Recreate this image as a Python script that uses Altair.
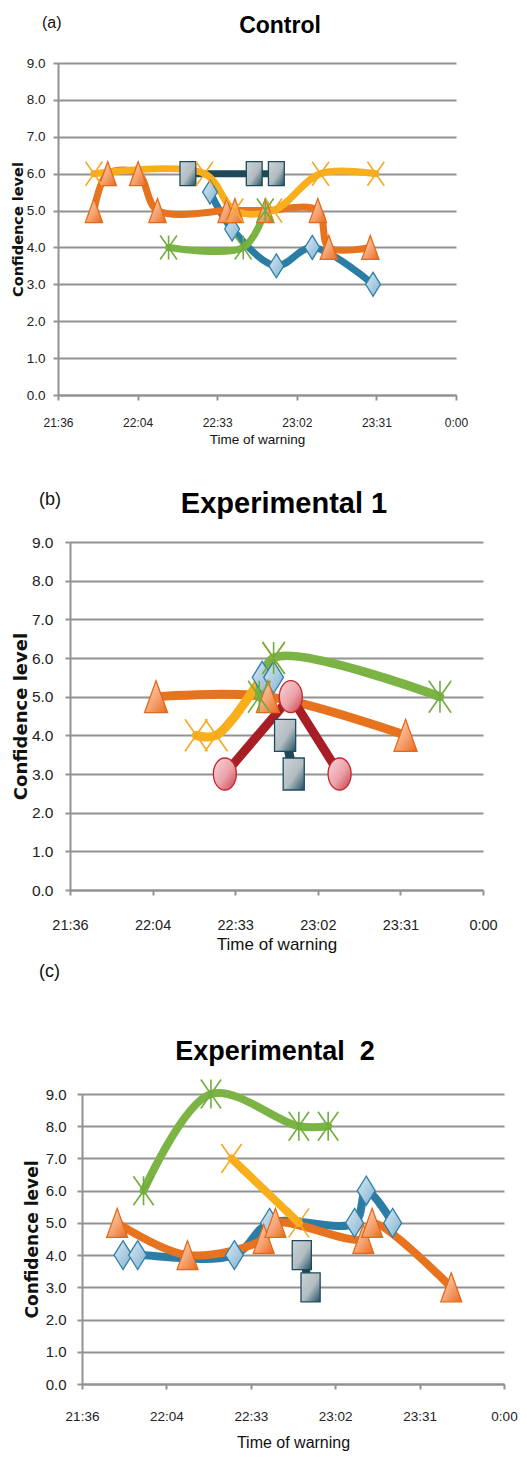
import json
import altair as alt
import pandas as pd

# ---------------- data ----------------
X_TICK_LABELS = ["21:36", "22:04", "22:33", "23:02", "23:31", "0:00"]
AXIS_START = 1296.0   # 21:36 in minutes
AXIS_STEP = 28.8      # Excel major unit 0.02 day
Y_TICKS = [0, 1, 2, 3, 4, 5, 6, 7, 8, 9]

# (a) Control
A_NAVY_T = ["22:23", "22:47", "22:55"]
A_NAVY_V = [6, 6, 6]
A_BLUE_T = ["22:31", "22:39", "22:55", "23:08", "23:30"]
A_BLUE_V = [5.5, 4.5, 3.5, 4.0, 3.0]
A_ORANGE_T = ["21:49", "21:54", "22:05", "22:12", "22:37", "22:40", "22:51", "23:10", "23:14", "23:29"]
A_ORANGE_V = [5, 6, 6, 5, 5, 5, 5, 5, 4, 4]
A_YELLOW_T = ["21:49", "22:29", "22:40", "22:54", "23:11", "23:31"]
A_YELLOW_V = [6, 6, 5, 5, 6, 6]
A_GREEN_T = ["22:16", "22:43", "22:51"]
A_GREEN_V = [4, 4, 5]

# (b) Experimental 1
B_NAVY_T = ["22:51", "22:54"]
B_NAVY_V = [4, 3]
B_BLUE_T = ["22:43", "22:47"]
B_BLUE_V = [5.5, 5.5]
B_ORANGE_T = ["22:06", "22:45", "23:33"]
B_ORANGE_V = [5, 5, 4]
B_RED_T = ["22:30", "22:53", "23:10"]
B_RED_V = [3, 5, 3]
B_YELLOW_T = ["22:20", "22:27", "22:47"]
B_YELLOW_V = [4, 4, 6]
B_GREEN_T = ["22:42", "22:47", "23:45"]
B_GREEN_V = [5, 6, 5]

# (c) Experimental 2
C_NAVY_T = ["22:51", "22:54"]
C_NAVY_V = [4, 3]
C_BLUE_T = ["21:50", "21:55", "22:28", "22:40", "23:09", "23:13", "23:22"]
C_BLUE_V = [4, 4, 4, 5, 5, 6, 5]
C_ORANGE_T = ["21:48", "22:12", "22:38", "22:42", "23:12", "23:15", "23:42"]
C_ORANGE_V = [5, 4, 4.5, 5, 4.5, 5, 3]
C_YELLOW_T = ["22:27", "22:50"]
C_YELLOW_V = [7, 5]
C_GREEN_T = ["21:57", "22:20", "22:50", "23:00"]
C_GREEN_V = [6, 9, 8, 8]

# ---------------- styling ----------------
SANS = "'Liberation Sans', Arial, sans-serif"
BOLDSANS = "'DejaVu Sans', Verdana, sans-serif"
GRID = "#929292"

TRI = "M0,-1L0.72,1L-0.72,1Z"
DIAMOND = "M0,-1L0.62,0L0,1L-0.62,0Z"
SQUARE = "M-0.66,-1L0.66,-1L0.66,1L-0.66,1Z"
ELLIPSE = "M-0.72,0A0.72,1 0 1,0 0.72,0A0.72,1 0 1,0 -0.72,0Z"
XMARK = "M-0.7,-1L0.7,1M-0.7,1L0.7,-1"
STAR = "M-0.7,-1L0.7,1M-0.7,1L0.7,-1M0,-1L0,1"


def grad(c0, c1, c2):
    return alt.LinearGradient(
        gradient="linear",
        stops=[alt.GradientStop(color=c0, offset=0),
               alt.GradientStop(color=c1, offset=0.55),
               alt.GradientStop(color=c2, offset=1)],
        x1=0, y1=0, x2=1, y2=1)


STYLE = {
    "navy": dict(line="#1e4858", shape=SQUARE, fill=grad("#cbd3d7", "#b2bcc1", "#22505f"),
                 stroke="#1d4b5c", filled=True, interp="linear"),
    "blue": dict(line="#2b7da6", shape=DIAMOND, fill=grad("#dbe9f2", "#a9cbe0", "#7eafcf"),
                 stroke="#2f7fa7", filled=True, interp="catmull-rom"),
    "orange": dict(line="#e8731f", shape=TRI, fill=grad("#fcd9c3", "#f5a270", "#e8681c"),
                   stroke="#e2691b", filled=True, interp="catmull-rom"),
    "red": dict(line="#a81e26", shape=ELLIPSE, fill=grad("#f8d6da", "#eba2a8", "#c93a44"),
                stroke="#c3262e", filled=True, interp="linear"),
    "yellow": dict(line="#f9ae1b", shape=XMARK, stroke="#f7a823", filled=False,
                   interp="catmull-rom"),
    "green": dict(line="#7bb445", shape=STAR, stroke="#70ad3e", filled=False,
                  interp="catmull-rom"),
}


def minutes(t):
    h, m = (int(p) for p in t.split(":"))
    if h < 12:
        h += 24
    return h * 60 + m


X_VALUES = [AXIS_START + AXIS_STEP * i for i in range(len(X_TICK_LABELS))]
LABEL_EXPR = "%s[round((datum.value - %s) / %s)]" % (json.dumps(X_TICK_LABELS), AXIS_START, AXIS_STEP)


def build_panel(series, cfg):
    W, H = cfg["w"], cfg["h"]
    xenc = alt.X("t:Q",
                 scale=alt.Scale(domain=[X_VALUES[0], X_VALUES[-1]], nice=False, zero=False),
                 axis=alt.Axis(values=X_VALUES, labelExpr=LABEL_EXPR, grid=False,
                               title="Time of warning", titleFont=SANS,
                               titleFontSize=cfg["xt_fs"], titleFontWeight="normal",
                               titleColor="#111", titlePadding=cfg["xt_pad"],
                               labelFont=SANS, labelFontSize=cfg["xl_fs"], labelColor="#222",
                               labelPadding=cfg["xl_pad"], tickSize=5, tickColor=GRID,
                               tickWidth=2, domainColor=GRID, domainWidth=2,
                               labelFlush=False, labelOverlap=False))
    yenc = alt.Y("v:Q",
                 scale=alt.Scale(domain=[0, 9], nice=False, zero=False),
                 axis=alt.Axis(values=Y_TICKS, format=".1f", grid=True, gridColor=GRID,
                               gridWidth=2, domainColor=GRID, domainWidth=2,
                               tickColor=GRID, tickWidth=2, tickSize=5,
                               labelFont=SANS, labelFontSize=cfg["yl_fs"], labelColor="#222",
                               labelPadding=cfg["yl_pad"],
                               title="Confidence level", titleFont=BOLDSANS,
                               titleFontSize=cfg["yt_fs"], titleFontWeight="bold",
                               titleColor="#111", titleX=cfg["yt_x"], titleY=H / 2,
                               titleAngle=270, titleAlign="center", titleBaseline="middle"))
    layers = []
    frames = []
    for name, times, vals in series:
        df = pd.DataFrame({"t": [minutes(s) for s in times], "v": vals})
        frames.append((name, df))
    for name, df in frames:
        st = STYLE[name]
        layers.append(alt.Chart(df).mark_line(
            color=st["line"], strokeWidth=cfg["lw"], interpolate=st["interp"],
            strokeCap="round", strokeJoin="round").encode(x=xenc, y=yenc))
    for name, df in frames:
        st = STYLE[name]
        if st["filled"]:
            mk = alt.Chart(df).mark_point(shape=st["shape"], size=cfg["ms"], filled=True,
                                          fill=st["fill"], stroke=st["stroke"],
                                          strokeWidth=1.3, opacity=1)
        else:
            mk = alt.Chart(df).mark_point(shape=st["shape"], size=cfg["ms"], filled=False,
                                          stroke=st["stroke"], strokeWidth=1.6, opacity=1)
        layers.append(mk.encode(x=xenc, y=yenc))

    txt = pd.DataFrame({"tag": [cfg["tag"]], "title": [cfg["title"]]})
    layers.append(alt.Chart(txt).mark_text(
        align="left", baseline="alphabetic", font=SANS,
        fontSize=cfg["tag_fs"], color="#111").encode(
        text="tag:N", x=alt.value(cfg["tag_x"]), y=alt.value(cfg["tag_y"])))
    layers.append(alt.Chart(txt).mark_text(
        align="center", baseline="alphabetic", font=SANS, fontWeight="bold",
        fontSize=cfg["title_fs"], color="#000").encode(
        text="title:N", x=alt.value(cfg["title_x"]), y=alt.value(cfg["title_y"])))
    # invisible frame that fixes the panel's outer extent
    layers.append(alt.Chart(txt).mark_rule(opacity=0, strokeWidth=1).encode(
        x=alt.value(cfg["sp_x"]), y=alt.value(cfg["sp_top"]), y2=alt.value(H + cfg["sp_bot"])))
    panel = alt.layer(*layers).properties(width=W, height=H)
    # a 1px invisible spacer column lets each panel keep its own left offset
    spacer = alt.Chart(txt).mark_rule(opacity=0, strokeWidth=1).encode(
        x=alt.value(0), y=alt.value(0), y2=alt.value(1)).properties(width=1, height=1)
    return alt.hconcat(spacer, panel, spacing=0)


row_a = build_panel(
    [("navy", A_NAVY_T, A_NAVY_V), ("blue", A_BLUE_T, A_BLUE_V),
     ("orange", A_ORANGE_T, A_ORANGE_V), ("yellow", A_YELLOW_T, A_YELLOW_V),
     ("green", A_GREEN_T, A_GREEN_V)],
    dict(w=398, h=332, lw=7, ms=576, xt_fs=13.5, xt_pad=4, xl_fs=12, xl_pad=17,
         yl_fs=13.5, yl_pad=8, yt_fs=14.5, yt_x=-40,
         tag="(a)", tag_fs=16, tag_x=-16, tag_y=-35,
         title="Control", title_fs=23, title_x=222, title_y=-30,
         sp_x=-49, sp_top=-55, sp_bot=62))

row_b = build_panel(
    [("navy", B_NAVY_T, B_NAVY_V), ("blue", B_BLUE_T, B_BLUE_V),
     ("orange", B_ORANGE_T, B_ORANGE_V), ("red", B_RED_T, B_RED_V),
     ("yellow", B_YELLOW_T, B_YELLOW_V), ("green", B_GREEN_T, B_GREEN_V)],
    dict(w=413, h=348, lw=9, ms=1024, xt_fs=17, xt_pad=5, xl_fs=14.5, xl_pad=23,
         yl_fs=15.5, yl_pad=12, yt_fs=18, yt_x=-49,
         tag="(b)", tag_fs=18, tag_x=-31, tag_y=-37,
         title="Experimental 1", title_fs=29, title_x=214, title_y=-29,
         sp_x=-61, sp_top=-85, sp_bot=66))

row_c = build_panel(
    [("navy", C_NAVY_T, C_NAVY_V), ("blue", C_BLUE_T, C_BLUE_V),
     ("orange", C_ORANGE_T, C_ORANGE_V), ("yellow", C_YELLOW_T, C_YELLOW_V),
     ("green", C_GREEN_T, C_GREEN_V)],
    dict(w=422, h=290, lw=8, ms=841, xt_fs=16, xt_pad=12, xl_fs=13.5, xl_pad=20,
         yl_fs=15, yl_pad=11, yt_fs=17, yt_x=-50,
         tag="(c)", tag_fs=18, tag_x=-43, tag_y=-117,
         title="Experimental\u00a0 2", title_fs=27, title_x=193, title_y=-34,
         sp_x=-73, sp_top=-138, sp_bot=60))

chart = alt.vconcat(row_a, row_b, row_c, spacing=0).properties(
    padding=0).configure_view(stroke=None)

chart.save("out.html", embed_options={"renderer": "svg", "actions": False})
